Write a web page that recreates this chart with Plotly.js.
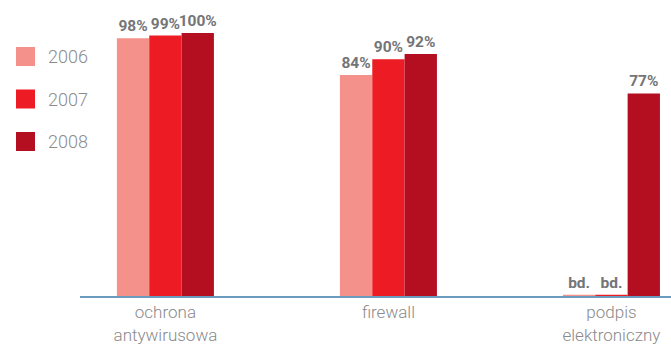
<!DOCTYPE html>
<html>
<head>
<meta charset="utf-8">
<script src="https://cdn.plot.ly/plotly-3.0.1.min.js"></script>
<style>html,body{margin:0;padding:0;background:#fff;}#chart{width:671px;height:345px;}</style>
</head>
<body>
<div id="chart"></div>
<script>
// ---- data ----
const categories = ["ochrona<br>antywirusowa", "firewall", "podpis<br>elektroniczny"];
const seriesNames = ["2006", "2007", "2008"];
const values2006 = [98, 84, 0.5];
const values2007 = [99, 90, 0.5];
const values2008 = [100, 92, 77];
const labels2006 = ["98%", "84%", "bd."];
const labels2007 = ["99%", "90%", "bd."];
const labels2008 = ["100%", "92%", "77%"];
const colors = ["#f4918a", "#ed1c24", "#b30f20"];

const seriesValues = [values2006, values2007, values2008];
const seriesLabels = [labels2006, labels2007, labels2008];

const traces = seriesNames.map((name, i) => ({
  type: "bar",
  name: name,
  x: categories,
  y: seriesValues[i],
  text: seriesLabels[i],
  textposition: "outside",
  constraintext: "none",
  cliponaxis: false,
  textfont: {family: "Roboto, sans-serif", size: 15.5, weight: 700, color: "#747577"},
  marker: {color: colors[i], line: {width: 0}},
  hoverinfo: "none",
  showlegend: false
}));

// custom legend (large squares) built from series names/colors
const shapes = [];
const annotations = [];
seriesNames.forEach((name, i) => {
  const top = -27 - i * 42.5;
  shapes.push({
    type: "rect", xref: "paper", yref: "paper",
    xsizemode: "pixel", ysizemode: "pixel",
    xanchor: 0, yanchor: 1,
    x0: -64, x1: -45, y0: top - 19, y1: top,
    fillcolor: colors[i], line: {width: 0}
  });
  annotations.push({
    xref: "paper", yref: "paper", x: 0, y: 1,
    xanchor: "left", yanchor: "middle",
    xshift: -34, yshift: top - 9.5,
    text: name, showarrow: false,
    font: {family: "Roboto, sans-serif", size: 18, weight: 300, color: "#8c8c8c"}
  });
});

const layout = {
  width: 671, height: 345,
  margin: {l: 80, r: 0, t: 20, b: 49, pad: 0},
  paper_bgcolor: "#ffffff", plot_bgcolor: "#ffffff",
  barmode: "group", bargap: 0.565, bargroupgap: 0,
  xaxis: {
    type: "category",
    range: [-0.383, 2.267],
    showline: true, linecolor: "#6b9cbf", linewidth: 2,
    showgrid: false, zeroline: false, ticks: "",
    tickfont: {family: "Roboto, sans-serif", size: 17, weight: 300, color: "#8a8a8a"},
    fixedrange: true
  },
  yaxis: {
    range: [0, 104.9],
    visible: false, showgrid: false, zeroline: false, fixedrange: true
  },
  shapes: shapes,
  annotations: annotations,
  showlegend: false
};

Plotly.newPlot("chart", traces, layout, {displayModeBar: false, staticPlot: true});
</script>
</body>
</html>
